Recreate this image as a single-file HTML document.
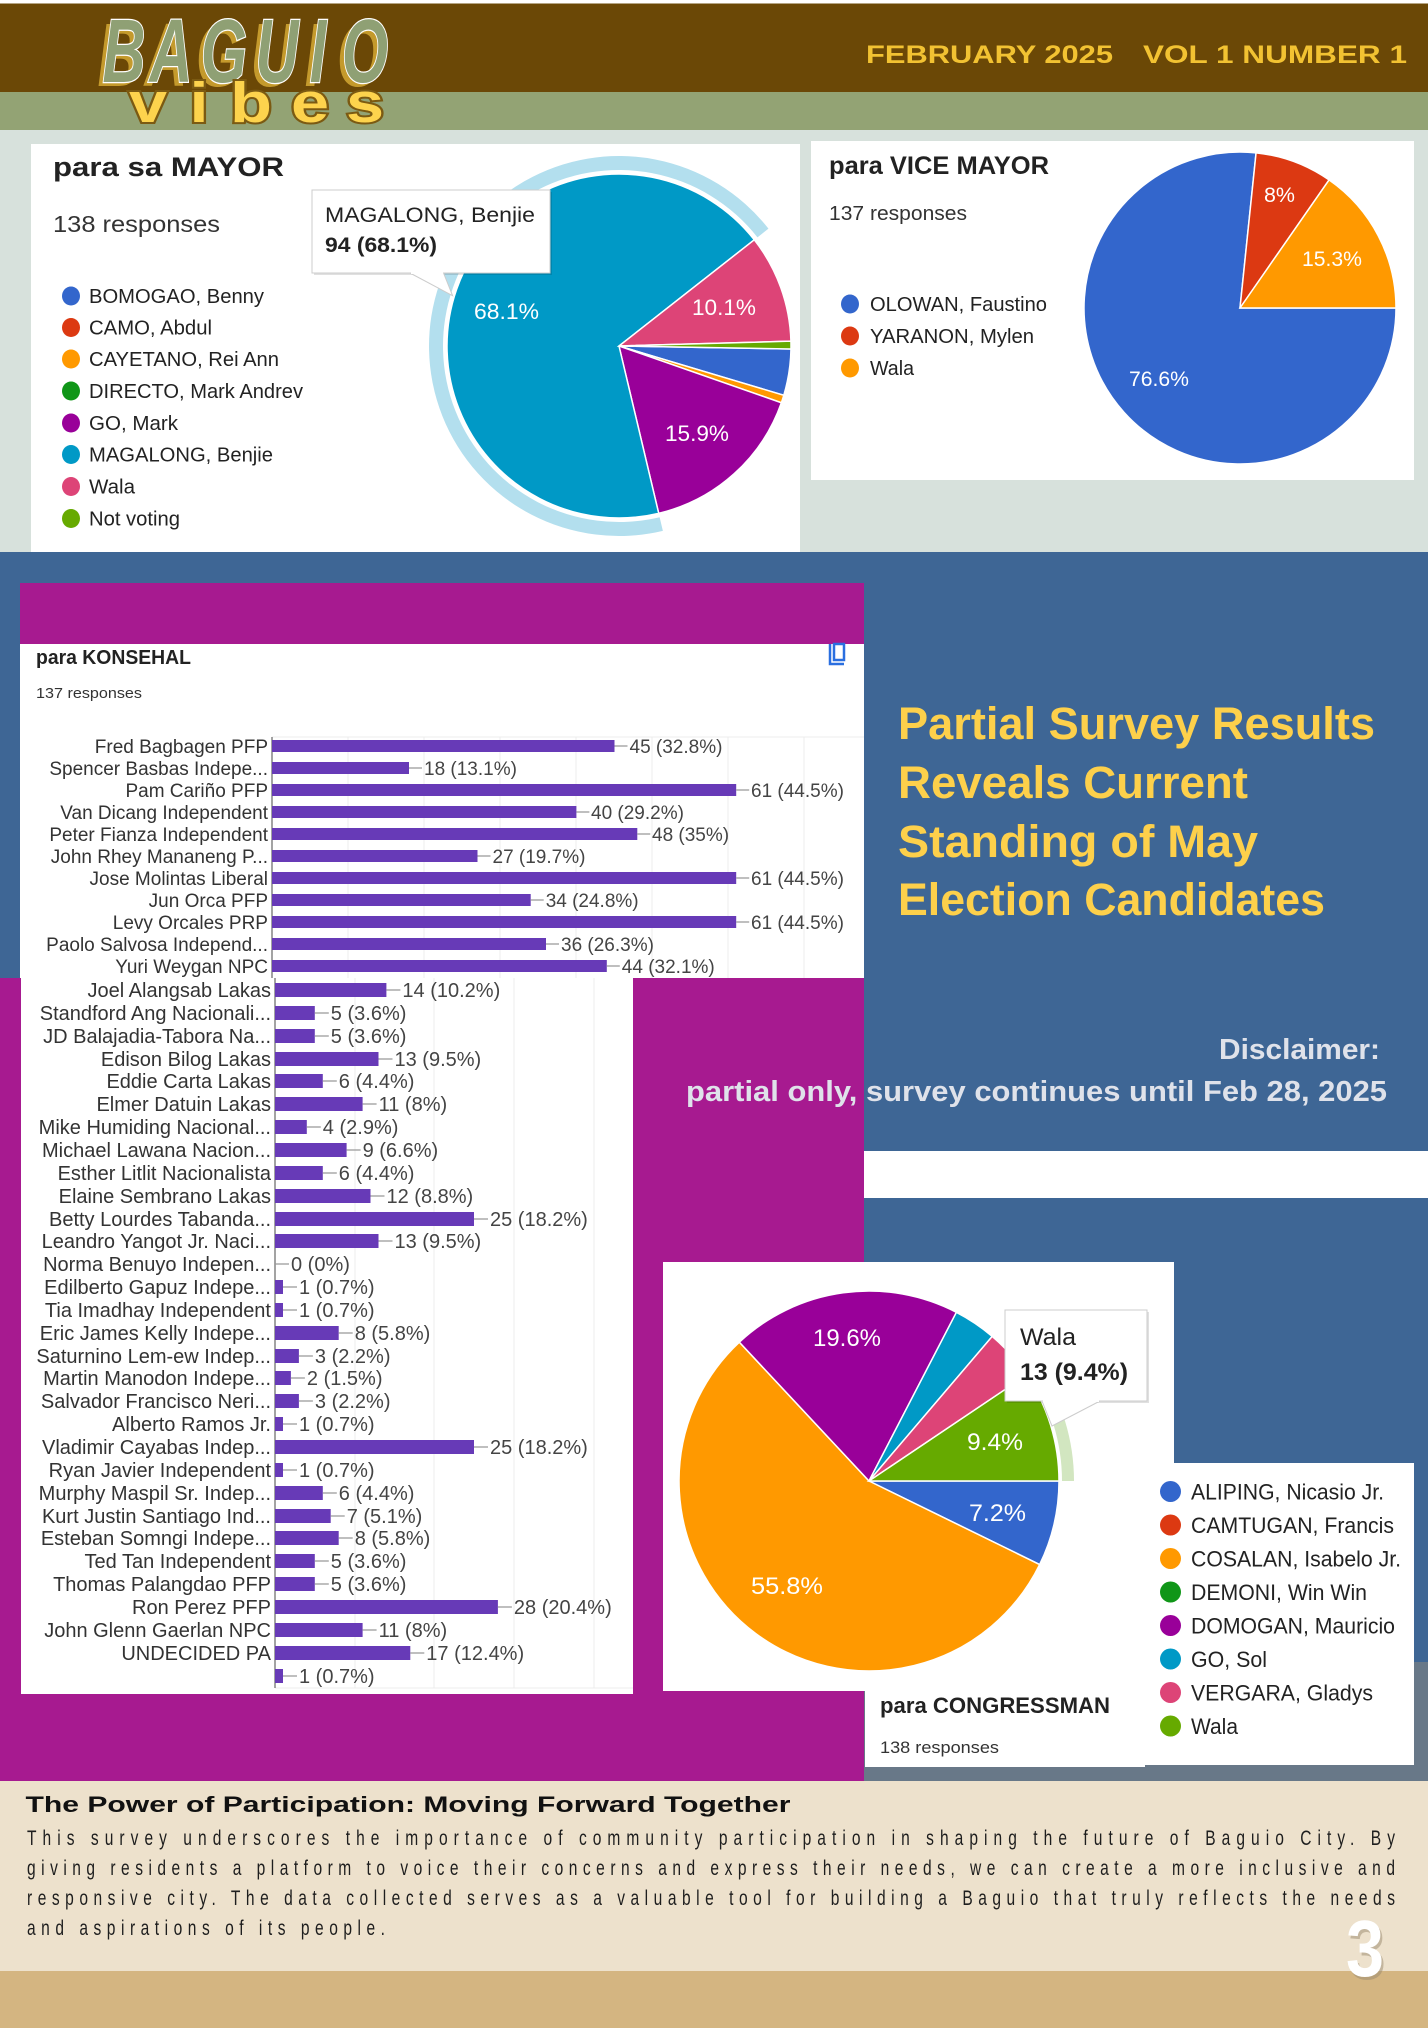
<!DOCTYPE html>
<html><head><meta charset="utf-8"><style>
html,body{margin:0;padding:0;background:#fff}
svg{display:block}
text{font-family:"Liberation Sans",Arial,sans-serif}
.lu{font-size:19px;fill:#333;text-anchor:end}
.ll{font-size:20px;fill:#333;text-anchor:end}
.vu{font-size:19px;fill:#444}
.vl{font-size:20px;fill:#444}
.lg{fill:#222}
.pl{fill:#fff}
</style></head><body>
<svg width="1428" height="2028" viewBox="0 0 1428 2028" xmlns="http://www.w3.org/2000/svg">
<!-- backgrounds -->
<rect x="0" y="0" width="1428" height="2028" fill="#fff"/>
<rect x="0" y="3.5" width="1428" height="89" fill="#6b4806"/>
<rect x="0" y="92" width="1428" height="38" fill="#93a374"/>
<rect x="0" y="130" width="1428" height="422" fill="#d7e1dc"/>
<rect x="0" y="552" width="1428" height="1230" fill="#3e6695"/>
<rect x="20" y="583" width="844" height="400" fill="#a71a90"/>
<rect x="0" y="978" width="864" height="804" fill="#a71a90"/>
<rect x="864" y="1151" width="564" height="47" fill="#fff"/>
<rect x="864" y="1662" width="564" height="120" fill="#687888"/>
<rect x="0" y="1781" width="1428" height="190" fill="#ede1cc"/>
<rect x="0" y="1971" width="1428" height="57" fill="#d4b581"/>

<!-- header -->
<g font-family="Liberation Sans, Arial, sans-serif" font-weight="bold" font-size="25" fill="#f2c232">
<text x="866" y="63" textLength="247" lengthAdjust="spacingAndGlyphs">FEBRUARY 2025</text>
<text x="1143" y="63" textLength="264" lengthAdjust="spacingAndGlyphs">VOL 1 NUMBER 1</text>
</g>
<!-- logo BAGUIO -->
<g font-family="Liberation Serif, serif" font-weight="bold" font-style="italic" font-size="90" text-anchor="middle">
<g fill="#c49a2c">
<text transform="translate(119,86) scale(0.66,1)">B</text>
<text transform="translate(166,86) scale(0.66,1)">A</text>
<text transform="translate(219,86) scale(0.66,1)">G</text>
<text transform="translate(272,86) scale(0.66,1)">U</text>
<text transform="translate(313,86) scale(0.66,1)">I</text>
<text transform="translate(360,86) scale(0.66,1)">O</text>
</g>
<g fill="#8fa074" stroke="#fff" stroke-width="2.5" paint-order="stroke">
<text transform="translate(124,82) scale(0.66,1)">B</text>
<text transform="translate(171,82) scale(0.66,1)">A</text>
<text transform="translate(224,82) scale(0.66,1)">G</text>
<text transform="translate(277,82) scale(0.66,1)">U</text>
<text transform="translate(318,82) scale(0.66,1)">I</text>
<text transform="translate(365,82) scale(0.66,1)">O</text>
</g>
</g>
<g font-family="Liberation Sans, Arial, sans-serif" font-weight="bold" font-size="57" text-anchor="middle" fill="#fdd34d" stroke="#7b5a12" stroke-width="4" paint-order="stroke">
<text transform="translate(148,122) scale(1.2,1)">v</text>
<text transform="translate(199,122) scale(1.2,1)">i</text>
<text transform="translate(251,122) scale(1.2,1)">b</text>
<text transform="translate(310,122) scale(1.2,1)">e</text>
<text transform="translate(365,122) scale(1.2,1)">s</text>
</g>

<!-- MAYOR card -->
<rect x="31" y="144" width="769" height="408" fill="#fff"/>
<text x="53" y="176" font-size="27" font-weight="bold" fill="#222" textLength="231" lengthAdjust="spacingAndGlyphs">para sa MAYOR</text>
<text x="53" y="232" font-size="23" fill="#333" textLength="167" lengthAdjust="spacingAndGlyphs">138 responses</text>
<g font-size="20" class="lg">
<ellipse cx="71" cy="296" rx="9" ry="9.5" fill="#3366cc"/><text x="89" y="303" textLength="175" lengthAdjust="spacingAndGlyphs">BOMOGAO, Benny</text>
<ellipse cx="71" cy="327.5" rx="9" ry="9.5" fill="#dc3912"/><text x="89" y="334.5" textLength="123" lengthAdjust="spacingAndGlyphs">CAMO, Abdul</text>
<ellipse cx="71" cy="359" rx="9" ry="9.5" fill="#ff9900"/><text x="89" y="366" textLength="190" lengthAdjust="spacingAndGlyphs">CAYETANO, Rei Ann</text>
<ellipse cx="71" cy="391" rx="9" ry="9.5" fill="#109618"/><text x="89" y="398" textLength="214" lengthAdjust="spacingAndGlyphs">DIRECTO, Mark Andrev</text>
<ellipse cx="71" cy="423" rx="9" ry="9.5" fill="#990099"/><text x="89" y="430" textLength="89" lengthAdjust="spacingAndGlyphs">GO, Mark</text>
<ellipse cx="71" cy="454.5" rx="9" ry="9.5" fill="#0099c6"/><text x="89" y="461.5" textLength="184" lengthAdjust="spacingAndGlyphs">MAGALONG, Benjie</text>
<ellipse cx="71" cy="486.5" rx="9" ry="9.5" fill="#dd4477"/><text x="89" y="493.5" textLength="46" lengthAdjust="spacingAndGlyphs">Wala</text>
<ellipse cx="71" cy="518.5" rx="9" ry="9.5" fill="#66aa00"/><text x="89" y="525.5" textLength="91" lengthAdjust="spacingAndGlyphs">Not voting</text>
</g>
<!-- mayor pie -->
<path d="M662.87,530.87 A190,190 0 1 1 768.46,228.68 L757.45,237.33 A176,176 0 1 0 659.64,517.24 Z" fill="#b3dfee"/>
<g stroke="#fff" stroke-width="1.5">
<path d="M619,346 L790.97,349 A172,172 0 0 1 783.79,395.29 Z" fill="#3366cc"/>
<path d="M619,346 L783.79,395.29 A172,172 0 0 1 781.37,402.74 Z" fill="#ff9900"/>
<path d="M619,346 L781.37,402.74 A172,172 0 0 1 658.71,513.35 Z" fill="#990099"/>
<path d="M619,346 L658.71,513.35 A172,172 0 1 1 754.30,239.80 Z" fill="#0099c6"/>
<path d="M619,346 L754.30,239.80 A172,172 0 0 1 790.93,341.17 Z" fill="#dd4477"/>
<path d="M619,346 L790.93,341.17 A172,172 0 0 1 790.97,349 Z" fill="#66aa00"/>
</g>
<g font-size="22" class="pl">
<text x="474" y="319" textLength="65" lengthAdjust="spacingAndGlyphs">68.1%</text>
<text x="692" y="315" textLength="64" lengthAdjust="spacingAndGlyphs">10.1%</text>
<text x="665" y="441" textLength="64" lengthAdjust="spacingAndGlyphs">15.9%</text>
</g>
<!-- mayor tooltip -->
<rect x="314" y="192" width="238" height="83" fill="#000" opacity="0.12"/>
<rect x="312" y="190" width="238" height="83" fill="#fff" stroke="#cccccc" stroke-width="1"/>
<path d="M410,273 L452.6,295.7 L443.5,273" fill="#fff" stroke="#cccccc" stroke-width="1"/>
<rect x="411" y="271" width="32" height="3" fill="#fff"/>
<text x="325" y="222" font-size="21" fill="#222" textLength="210" lengthAdjust="spacingAndGlyphs">MAGALONG, Benjie</text>
<text x="325" y="252" font-size="21" font-weight="bold" fill="#222" textLength="112" lengthAdjust="spacingAndGlyphs">94 (68.1%)</text>

<!-- VICE MAYOR card -->
<rect x="811" y="141" width="603" height="339" fill="#fff"/>
<text x="829" y="174" font-size="25" font-weight="bold" fill="#222" textLength="220" lengthAdjust="spacingAndGlyphs">para VICE MAYOR</text>
<text x="829" y="220" font-size="20" fill="#333" textLength="138" lengthAdjust="spacingAndGlyphs">137 responses</text>
<g font-size="20" class="lg">
<ellipse cx="850" cy="304" rx="9" ry="9.5" fill="#3366cc"/><text x="870" y="311" textLength="177" lengthAdjust="spacingAndGlyphs">OLOWAN, Faustino</text>
<ellipse cx="850" cy="336" rx="9" ry="9.5" fill="#dc3912"/><text x="870" y="343" textLength="164" lengthAdjust="spacingAndGlyphs">YARANON, Mylen</text>
<ellipse cx="850" cy="368" rx="9" ry="9.5" fill="#ff9900"/><text x="870" y="375" textLength="44" lengthAdjust="spacingAndGlyphs">Wala</text>
</g>
<g stroke="#fff" stroke-width="1.5">
<path d="M1240,308 L1396,308 A156,156 0 1 1 1256.07,152.83 Z" fill="#3366cc"/>
<path d="M1240,308 L1256.07,152.83 A156,156 0 0 1 1329.07,179.93 Z" fill="#dc3912"/>
<path d="M1240,308 L1329.07,179.93 A156,156 0 0 1 1396,308 Z" fill="#ff9900"/>
</g>
<g font-size="21" class="pl">
<text x="1264" y="202" textLength="31" lengthAdjust="spacingAndGlyphs">8%</text>
<text x="1302" y="266" textLength="60" lengthAdjust="spacingAndGlyphs">15.3%</text>
<text x="1129" y="386" textLength="60" lengthAdjust="spacingAndGlyphs">76.6%</text>
</g>

<!-- KONSEHAL chart upper -->
<rect x="20" y="644" width="844" height="334" fill="#fff"/>
<rect x="21" y="978" width="612" height="716" fill="#fff"/>
<text x="36" y="664" font-size="20" font-weight="bold" fill="#222" textLength="155" lengthAdjust="spacingAndGlyphs">para KONSEHAL</text>
<text x="36" y="698" font-size="15" fill="#333" textLength="106" lengthAdjust="spacingAndGlyphs">137 responses</text>
<g fill="none" stroke="#2a6fe0" stroke-width="2.5">
<path d="M830,644 V664 H844"/>
<rect x="834" y="644" width="10" height="16"/>
</g>
<!-- grids -->
<g stroke="#ececec" stroke-width="1">
<path d="M272,737 H864"/>
<path d="M348,737 V978 M424,737 V978 M500,737 V978 M576,737 V978 M652,737 V978 M728,737 V978 M804,737 V978"/>
<path d="M355,978 V1688 M434,978 V1688 M514,978 V1688 M594,978 V1688"/>
<path d="M275,1688 H633"/>
</g>
<path d="M272,737 V978 M275,978 V1688" stroke="#666" stroke-width="1.2"/>
<!-- upper bars -->
<g fill="#673ab7">
<rect x="272" y="740" width="342.5" height="12"/>
<rect x="272" y="762" width="137" height="12"/>
<rect x="272" y="784" width="464.2" height="12"/>
<rect x="272" y="806" width="304.4" height="12"/>
<rect x="272" y="828" width="365.3" height="12"/>
<rect x="272" y="850" width="205.5" height="12"/>
<rect x="272" y="872" width="464.2" height="12"/>
<rect x="272" y="894" width="258.7" height="12"/>
<rect x="272" y="916" width="464.2" height="12"/>
<rect x="272" y="938" width="274" height="12"/>
<rect x="272" y="960" width="334.8" height="12"/>
</g>
<path stroke="#999" stroke-width="1.2" d="M614.5,746h13 M409,768h13 M736.2,790h13 M576.4,812h13 M637.3,834h13 M477.5,856h13 M736.2,878h13 M530.7,900h13 M736.2,922h13 M546,944h13 M606.8,966h13"/>
<g class="lu">
<text x="268" y="753">Fred Bagbagen PFP</text>
<text x="268" y="775">Spencer Basbas Indepe...</text>
<text x="268" y="797">Pam Cariño PFP</text>
<text x="268" y="819">Van Dicang Independent</text>
<text x="268" y="841">Peter Fianza Independent</text>
<text x="268" y="863">John Rhey Mananeng P...</text>
<text x="268" y="885">Jose Molintas Liberal</text>
<text x="268" y="907">Jun Orca PFP</text>
<text x="268" y="929">Levy Orcales PRP</text>
<text x="268" y="951">Paolo Salvosa Independ...</text>
<text x="268" y="973">Yuri Weygan NPC</text>
</g>
<g class="vu">
<text x="629.5" y="753">45 (32.8%)</text>
<text x="424" y="775">18 (13.1%)</text>
<text x="751" y="797">61 (44.5%)</text>
<text x="591" y="819">40 (29.2%)</text>
<text x="652" y="841">48 (35%)</text>
<text x="492.5" y="863">27 (19.7%)</text>
<text x="751" y="885">61 (44.5%)</text>
<text x="545.7" y="907">34 (24.8%)</text>
<text x="751" y="929">61 (44.5%)</text>
<text x="561" y="951">36 (26.3%)</text>
<text x="621.8" y="973">44 (32.1%)</text>
</g>
<!-- lower bars -->
<g fill="#673ab7">
<rect x="275" y="983" width="111.4" height="14"/>
<rect x="275" y="1006" width="39.8" height="14"/>
<rect x="275" y="1029" width="39.8" height="14"/>
<rect x="275" y="1052" width="103.5" height="14"/>
<rect x="275" y="1074" width="47.8" height="14"/>
<rect x="275" y="1097" width="87.6" height="14"/>
<rect x="275" y="1120" width="31.8" height="14"/>
<rect x="275" y="1143" width="71.6" height="14"/>
<rect x="275" y="1166" width="47.8" height="14"/>
<rect x="275" y="1189" width="95.5" height="14"/>
<rect x="275" y="1212" width="199" height="14"/>
<rect x="275" y="1234" width="103.5" height="14"/>
<rect x="275" y="1280" width="8" height="14"/>
<rect x="275" y="1303" width="8" height="14"/>
<rect x="275" y="1326" width="63.7" height="14"/>
<rect x="275" y="1349" width="23.9" height="14"/>
<rect x="275" y="1371" width="15.9" height="14"/>
<rect x="275" y="1394" width="23.9" height="14"/>
<rect x="275" y="1417" width="8" height="14"/>
<rect x="275" y="1440" width="199" height="14"/>
<rect x="275" y="1463" width="8" height="14"/>
<rect x="275" y="1486" width="47.8" height="14"/>
<rect x="275" y="1509" width="55.7" height="14"/>
<rect x="275" y="1531" width="63.7" height="14"/>
<rect x="275" y="1554" width="39.8" height="14"/>
<rect x="275" y="1577" width="39.8" height="14"/>
<rect x="275" y="1600" width="222.9" height="14"/>
<rect x="275" y="1623" width="87.6" height="14"/>
<rect x="275" y="1646" width="135.3" height="14"/>
<rect x="275" y="1669" width="8" height="14"/>
</g>
<path stroke="#999" stroke-width="1.2" d="M386.4,990h14 M314.8,1013h14 M314.8,1036h14 M378.5,1059h14 M322.8,1081h14 M362.6,1104h14 M306.8,1127h14 M346.6,1150h14 M322.8,1173h14 M370.5,1196h14 M474,1219h14 M378.5,1241h14 M275,1264h14 M283,1287h14 M283,1310h14 M338.7,1333h14 M298.9,1356h14 M290.9,1378h14 M298.9,1401h14 M283,1424h14 M474,1447h14 M283,1470h14 M322.8,1493h14 M330.7,1516h14 M338.7,1538h14 M314.8,1561h14 M314.8,1584h14 M497.9,1607h14 M362.6,1630h14 M410.3,1653h14 M283,1676h14"/>
<g class="ll">
<text x="271" y="997">Joel Alangsab Lakas</text>
<text x="271" y="1020">Standford Ang Nacionali...</text>
<text x="271" y="1043">JD Balajadia-Tabora Na...</text>
<text x="271" y="1066">Edison Bilog Lakas</text>
<text x="271" y="1088">Eddie Carta Lakas</text>
<text x="271" y="1111">Elmer Datuin Lakas</text>
<text x="271" y="1134">Mike Humiding Nacional...</text>
<text x="271" y="1157">Michael Lawana Nacion...</text>
<text x="271" y="1180">Esther Litlit Nacionalista</text>
<text x="271" y="1203">Elaine Sembrano Lakas</text>
<text x="271" y="1226">Betty Lourdes Tabanda...</text>
<text x="271" y="1248">Leandro Yangot Jr. Naci...</text>
<text x="271" y="1271">Norma Benuyo Indepen...</text>
<text x="271" y="1294">Edilberto Gapuz Indepe...</text>
<text x="271" y="1317">Tia Imadhay Independent</text>
<text x="271" y="1340">Eric James Kelly Indepe...</text>
<text x="271" y="1363">Saturnino Lem-ew Indep...</text>
<text x="271" y="1385">Martin Manodon Indepe...</text>
<text x="271" y="1408">Salvador Francisco Neri...</text>
<text x="271" y="1431">Alberto Ramos Jr.</text>
<text x="271" y="1454">Vladimir Cayabas Indep...</text>
<text x="271" y="1477">Ryan Javier Independent</text>
<text x="271" y="1500">Murphy Maspil Sr. Indep...</text>
<text x="271" y="1523">Kurt Justin Santiago Ind...</text>
<text x="271" y="1545">Esteban Somngi Indepe...</text>
<text x="271" y="1568">Ted Tan Independent</text>
<text x="271" y="1591">Thomas Palangdao PFP</text>
<text x="271" y="1614">Ron Perez PFP</text>
<text x="271" y="1637">John Glenn Gaerlan NPC</text>
<text x="271" y="1660">UNDECIDED PA</text>
</g>
<g class="vl">
<text x="402.4" y="997">14 (10.2%)</text>
<text x="330.8" y="1020">5 (3.6%)</text>
<text x="330.8" y="1043">5 (3.6%)</text>
<text x="394.5" y="1066">13 (9.5%)</text>
<text x="338.8" y="1088">6 (4.4%)</text>
<text x="378.6" y="1111">11 (8%)</text>
<text x="322.8" y="1134">4 (2.9%)</text>
<text x="362.6" y="1157">9 (6.6%)</text>
<text x="338.8" y="1180">6 (4.4%)</text>
<text x="386.5" y="1203">12 (8.8%)</text>
<text x="490" y="1226">25 (18.2%)</text>
<text x="394.5" y="1248">13 (9.5%)</text>
<text x="291" y="1271">0 (0%)</text>
<text x="299" y="1294">1 (0.7%)</text>
<text x="299" y="1317">1 (0.7%)</text>
<text x="354.7" y="1340">8 (5.8%)</text>
<text x="314.9" y="1363">3 (2.2%)</text>
<text x="306.9" y="1385">2 (1.5%)</text>
<text x="314.9" y="1408">3 (2.2%)</text>
<text x="299" y="1431">1 (0.7%)</text>
<text x="490" y="1454">25 (18.2%)</text>
<text x="299" y="1477">1 (0.7%)</text>
<text x="338.8" y="1500">6 (4.4%)</text>
<text x="346.7" y="1523">7 (5.1%)</text>
<text x="354.7" y="1545">8 (5.8%)</text>
<text x="330.8" y="1568">5 (3.6%)</text>
<text x="330.8" y="1591">5 (3.6%)</text>
<text x="513.9" y="1614">28 (20.4%)</text>
<text x="378.6" y="1637">11 (8%)</text>
<text x="426.3" y="1660">17 (12.4%)</text>
<text x="299" y="1683">1 (0.7%)</text>
</g>

<!-- headline -->
<g font-family="Liberation Sans, Arial, sans-serif" font-weight="bold" font-size="45" fill="#fdd04b">
<text x="898" y="739" textLength="477" lengthAdjust="spacingAndGlyphs">Partial Survey Results</text>
<text x="898" y="798" textLength="350" lengthAdjust="spacingAndGlyphs">Reveals Current</text>
<text x="898" y="857" textLength="360" lengthAdjust="spacingAndGlyphs">Standing of May</text>
<text x="898" y="915" textLength="427" lengthAdjust="spacingAndGlyphs">Election Candidates</text>
</g>
<g font-family="Liberation Sans, Arial, sans-serif" font-weight="bold" font-size="29" fill="#dfe2ea">
<text x="1219" y="1059" textLength="161" lengthAdjust="spacingAndGlyphs">Disclaimer:</text>
<text x="686" y="1101" textLength="701" lengthAdjust="spacingAndGlyphs">partial only, survey continues until Feb 28, 2025</text>
</g>

<!-- CONGRESSMAN card -->
<rect x="663" y="1262" width="511" height="429" fill="#fff"/>
<rect x="865" y="1690" width="280" height="77" fill="#fff"/>
<rect x="1143" y="1463" width="271" height="302" fill="#fff"/>
<path d="M1039.13,1366.62 A205,205 0 0 1 1074,1481 L1062,1481 A193,193 0 0 0 1029.1,1373.3 Z" fill="#d2e6c0"/>
<g stroke="#fff" stroke-width="1.5">
<path d="M869,1481 L1059,1481 A190,190 0 0 1 1039.65,1564.56 Z" fill="#3366cc"/>
<path d="M869,1481 L1039.65,1564.56 A190,190 0 1 1 739.32,1342.14 Z" fill="#ff9900"/>
<path d="M869,1481 L739.32,1342.14 A190,190 0 0 1 956.41,1312.30 Z" fill="#990099"/>
<path d="M869,1481 L956.41,1312.30 A190,190 0 0 1 992.23,1336.38 Z" fill="#0099c6"/>
<path d="M869,1481 L992.23,1336.38 A190,190 0 0 1 1026.68,1374.99 Z" fill="#dd4477"/>
<path d="M869,1481 L1026.68,1374.99 A190,190 0 0 1 1059,1481 Z" fill="#66aa00"/>
</g>
<g font-size="24" class="pl">
<text x="813" y="1346" textLength="68" lengthAdjust="spacingAndGlyphs">19.6%</text>
<text x="967" y="1450" textLength="56" lengthAdjust="spacingAndGlyphs">9.4%</text>
<text x="969" y="1521" textLength="57" lengthAdjust="spacingAndGlyphs">7.2%</text>
<text x="751" y="1594" textLength="72" lengthAdjust="spacingAndGlyphs">55.8%</text>
</g>
<!-- cong tooltip -->
<rect x="1007" y="1312" width="142" height="91" fill="#000" opacity="0.12"/>
<rect x="1005" y="1310" width="142" height="91" fill="#fff" stroke="#cccccc" stroke-width="1"/>
<path d="M1042,1401 L1052,1426 L1100,1401" fill="#fff" stroke="#cccccc" stroke-width="1"/>
<rect x="1043" y="1399" width="56" height="3" fill="#fff"/>
<text x="1020" y="1345" font-size="24" fill="#222" textLength="56" lengthAdjust="spacingAndGlyphs">Wala</text>
<text x="1020" y="1380" font-size="24" font-weight="bold" fill="#222" textLength="108" lengthAdjust="spacingAndGlyphs">13 (9.4%)</text>
<text x="880" y="1713" font-size="22" font-weight="bold" fill="#222" textLength="230" lengthAdjust="spacingAndGlyphs">para CONGRESSMAN</text>
<text x="880" y="1753" font-size="17" fill="#333" textLength="119" lengthAdjust="spacingAndGlyphs">138 responses</text>
<g font-size="22" class="lg">
<circle cx="1170.5" cy="1491.5" r="10.5" fill="#3366cc"/><text x="1191" y="1499.5" textLength="193" lengthAdjust="spacingAndGlyphs">ALIPING, Nicasio Jr.</text>
<circle cx="1170.5" cy="1525" r="10.5" fill="#dc3912"/><text x="1191" y="1533" textLength="203" lengthAdjust="spacingAndGlyphs">CAMTUGAN, Francis</text>
<circle cx="1170.5" cy="1558.5" r="10.5" fill="#ff9900"/><text x="1191" y="1566.5" textLength="210" lengthAdjust="spacingAndGlyphs">COSALAN, Isabelo Jr.</text>
<circle cx="1170.5" cy="1592" r="10.5" fill="#109618"/><text x="1191" y="1600" textLength="176" lengthAdjust="spacingAndGlyphs">DEMONI, Win Win</text>
<circle cx="1170.5" cy="1625.5" r="10.5" fill="#990099"/><text x="1191" y="1633.5" textLength="204" lengthAdjust="spacingAndGlyphs">DOMOGAN, Mauricio</text>
<circle cx="1170.5" cy="1659" r="10.5" fill="#0099c6"/><text x="1191" y="1667" textLength="76" lengthAdjust="spacingAndGlyphs">GO, Sol</text>
<circle cx="1170.5" cy="1692.5" r="10.5" fill="#dd4477"/><text x="1191" y="1700.5" textLength="182" lengthAdjust="spacingAndGlyphs">VERGARA, Gladys</text>
<circle cx="1170.5" cy="1726" r="10.5" fill="#66aa00"/><text x="1191" y="1734" textLength="47" lengthAdjust="spacingAndGlyphs">Wala</text>
</g>

<!-- bottom text -->
<text x="25.5" y="1812" font-size="22" font-weight="bold" fill="#111" textLength="765" lengthAdjust="spacingAndGlyphs">The Power of Participation: Moving Forward Together</text>
<g transform="scale(0.74,1)" font-family="Liberation Sans Narrow, Liberation Sans, Arial, sans-serif" font-size="21" fill="#1e1e1e">
<text x="36.5" y="1845" textLength="1848.6" lengthAdjust="spacing">This survey underscores the importance of community participation in shaping the future of Baguio City. By</text>
<text x="36.5" y="1875" textLength="1848.6" lengthAdjust="spacing">giving residents a platform to voice their concerns and express their needs, we can create a more inclusive and</text>
<text x="36.5" y="1905" textLength="1848.6" lengthAdjust="spacing">responsive city. The data collected serves as a valuable tool for building a Baguio that truly reflects the needs</text>
<text x="36.5" y="1935" textLength="483.8" lengthAdjust="spacing">and aspirations of its people.</text>
</g>
<text x="1348" y="1979" font-size="80" font-weight="bold" fill="#9a8a70" opacity="0.5" textLength="38" lengthAdjust="spacingAndGlyphs">3</text>
<text x="1346" y="1976" font-size="80" font-weight="bold" fill="#fff" textLength="38" lengthAdjust="spacingAndGlyphs">3</text>
</svg>
</body></html>
